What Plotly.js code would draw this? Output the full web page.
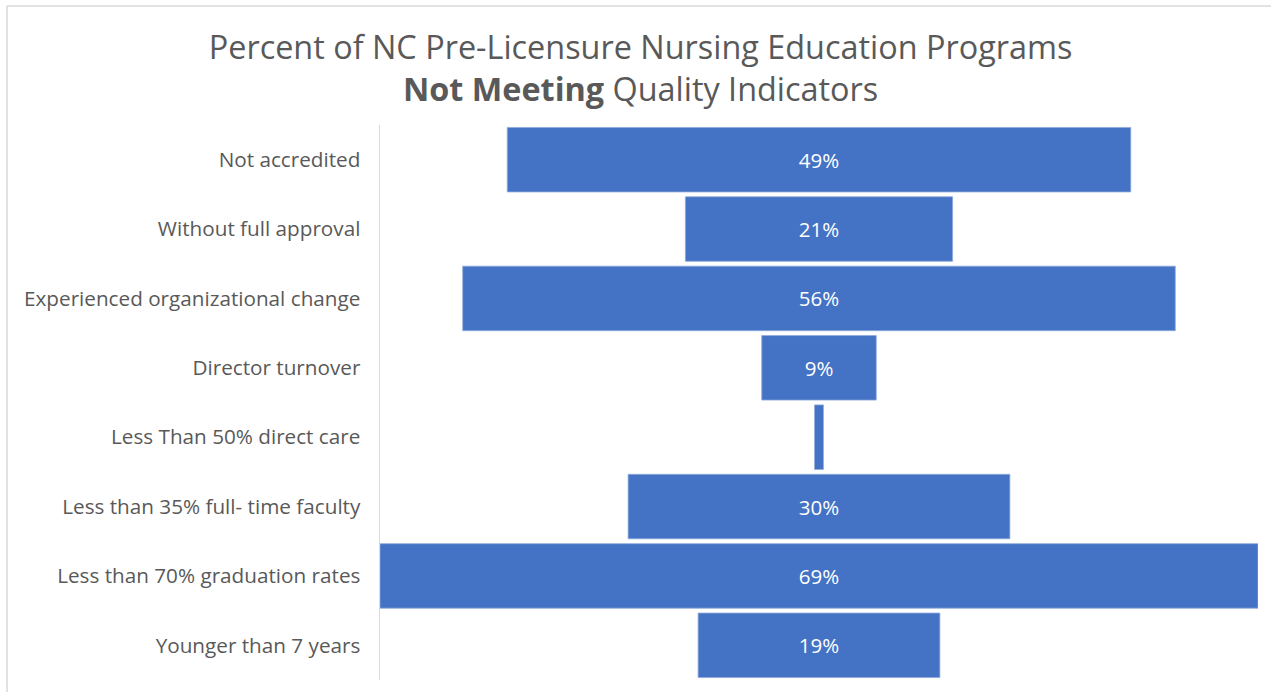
<!DOCTYPE html>
<html>
<head>
<meta charset="utf-8">
<script src="https://cdn.plot.ly/plotly-3.0.1.min.js"></script>
<style>html,body{margin:0;padding:0;background:#fff;}#chart{width:1271px;height:692px;}</style>
</head>
<body>
<div id="chart"></div>
<script>
const categories = [
  "Not accredited",
  "Without full approval",
  "Experienced organizational change",
  "Director turnover",
  "Less Than 50% direct care",
  "Less than 35% full- time faculty",
  "Less than 70% graduation rates",
  "Younger than 7 years"
];
const values = [49, 21, 56, 9, 0.7, 30, 69, 19];
const barLabels = ["49%", "21%", "56%", "9%", "", "30%", "69%", "19%"];

const FONT = "'Open Sans', sans-serif";

const trace = {
  type: "funnel",
  y: categories,
  x: values,
  text: barLabels,
  texttemplate: "%{text}",
  textposition: "inside",
  insidetextanchor: "middle",
  textfont: {family: FONT, size: 20.5, color: "#ffffff"},
  marker: {color: "#4472C4", line: {color: "#8faadc", width: 0.8}},
  connector: {visible: false},
  hoverinfo: "y+x"
};

const layout = {
  width: 1271,
  height: 692,
  paper_bgcolor: "#ffffff",
  plot_bgcolor: "#ffffff",
  margin: {l: 380, r: 13, t: 125, b: 12},
  showlegend: false,
  funnelgap: 0.07,
  title: {
    text: "Percent of NC Pre-Licensure Nursing Education Programs<br><b>Not Meeting</b> Quality Indicators",
    font: {family: FONT, size: 32.4, color: "#595959"},
    x: 0.504, xanchor: "center",
    y: 0.915, yanchor: "middle"
  },
  xaxis: {
    visible: false,
    range: [-34.5, 34.5],
    fixedrange: true
  },
  yaxis: {
    type: "category",
    autorange: false,
    range: [7.5, -0.5],
    showline: true,
    linecolor: "#d9d9d9",
    linewidth: 1.5,
    ticks: "",
    showgrid: false,
    ticklabelstandoff: 14,
    tickfont: {family: FONT, size: 20.7, color: "#595959"}
  },
  shapes: [
    {type: "line", xref: "paper", yref: "paper", x0: -0.4248, x1: 1.03, y0: 1.2144, y1: 1.2144, line: {color: "#d9d9d9", width: 1.5}},
    {type: "line", xref: "paper", yref: "paper", x0: -0.4248, x1: -0.4248, y0: 1.2144, y1: -0.05, line: {color: "#d9d9d9", width: 1.5}}
  ]
};

Plotly.newPlot("chart", [trace], layout, {displayModeBar: false, staticPlot: true});
</script>
</body>
</html>
